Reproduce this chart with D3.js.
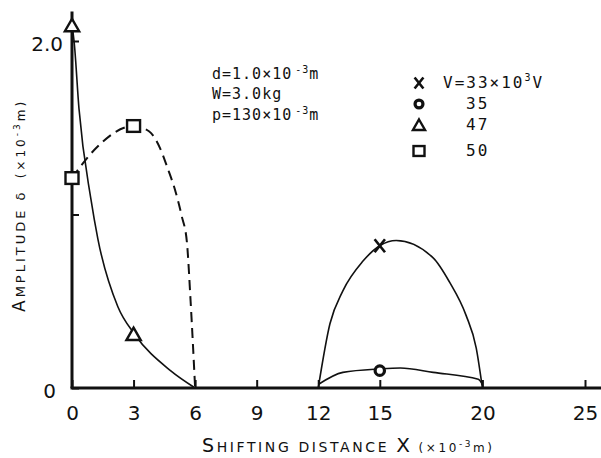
<!DOCTYPE html>
<html lang="en">
<head>
    <meta charset="UTF-8">
    <title>Amplitude vs shifting distance</title>
    <script src="https://d3js.org/d3.v7.min.js"></script>
    <style>
        body { margin: 0; padding: 0; background: white; }
        svg { display: block; }
        .tick text { font-family: "DejaVu Sans", sans-serif; font-size: 20px; fill: #111; }
        .note { font-family: "DejaVu Sans Mono", monospace; fill: #111; }
    </style>
</head>
<body>
<div id="chart"></div>
<script>
    // ticks
    const xTickValues = [0, 3, 6, 9, 12, 15, 20, 25];
    const yTickValues = [0, 1, 2];
    const yTickLabels = ["0", "", "2.0"];

    // measured points (x in 10^-3 m, amplitude in 10^-3 m)
    const v33Points = [[15, 0.82]];
    const v35Points = [[15, 0.10]];
    const v47Points = [[0, 2.09], [3, 0.31]];
    const v50Points = [[0, 1.21], [3, 1.51]];

    // hand drawn curves
    const v33Curve = [[12, 0], [12.57, 0.37], [13.2, 0.56], [14.17, 0.73], [15, 0.82], [15.8, 0.85], [17.6, 0.75], [18.4, 0.61], [19.2, 0.42], [19.7, 0.23], [20, 0]];
    const v35Curve = [[12, 0.02], [13.2, 0.09], [15, 0.11], [16, 0.115], [17.6, 0.09], [19.8, 0.05], [20, 0.02]];
    const v47Curve = [[0, 2.09], [0.1, 2.0], [0.34, 1.61], [0.92, 1.09], [1.26, 0.86], [2.23, 0.47], [3.05, 0.31], [4.8, 0.10], [6, 0]];
    const v50Curve = [[0, 1.21], [1.07, 1.37], [3, 1.51], [3.75, 1.48], [4.3, 1.38], [4.65, 1.27], [5.05, 1.13], [5.35, 0.99], [5.6, 0.84], [5.78, 0.5], [6, 0]];

    const legendLabels = ["V=33×10", "35", "47", "50"];

    const width = 601, height = 458;

    const x = d3.scaleLinear().domain([0, 25]).range([72, 585]);
    const y = d3.scaleLinear().domain([0, 2]).range([388, 41]);

    const svg = d3.select("#chart").append("svg")
        .attr("width", width)
        .attr("height", height);

    // axes
    const xAxis = d3.axisBottom(x)
        .tickValues(xTickValues)
        .tickFormat(d3.format("d"))
        .tickSizeInner(-8)
        .tickSizeOuter(0)
        .tickPadding(18);
    const gx = svg.append("g").attr("transform", `translate(0,${y(0)})`).call(xAxis);
    gx.select(".domain").remove();
    gx.selectAll(".tick line").attr("stroke", "#111").attr("stroke-width", 2);

    const yAxis = d3.axisLeft(y)
        .tickValues(yTickValues)
        .tickFormat((d, i) => yTickLabels[i])
        .tickSizeInner(-7)
        .tickSizeOuter(0)
        .tickPadding(9);
    const gy = svg.append("g").attr("transform", `translate(${x(0)},0)`).call(yAxis);
    gy.select(".domain").remove();
    gy.selectAll(".tick line").attr("stroke", "#111").attr("stroke-width", 2);
    gy.selectAll(".tick text").attr("x", d => d === 0 ? -16 : -9).attr("dy", "0.45em");

    // thick axis lines
    svg.append("line")
        .attr("x1", x(0) - 1.5).attr("x2", width)
        .attr("y1", y(0)).attr("y2", y(0))
        .attr("stroke", "#111").attr("stroke-width", 3);
    svg.append("line")
        .attr("x1", x(0)).attr("x2", x(0))
        .attr("y1", y(0)).attr("y2", y(2.17))
        .attr("stroke", "#111").attr("stroke-width", 3);

    // curves
    const line = d3.line()
        .x(d => x(d[0]))
        .y(d => y(d[1]))
        .curve(d3.curveMonotoneX);

    const curves = [
        { pts: v33Curve, dash: null },
        { pts: v35Curve, dash: null },
        { pts: v47Curve, dash: null },
        { pts: v50Curve, dash: "10,6" }
    ];
    svg.append("g").selectAll("path")
        .data(curves)
        .join("path")
        .attr("d", d => line(d.pts))
        .attr("fill", "none")
        .attr("stroke", "#111")
        .attr("stroke-width", d => d.dash ? 2 : 1.6)
        .attr("stroke-dasharray", d => d.dash);

    // marker shapes
    function marker(g, type, s) {
        if (type === "x") {
            g.append("path")
                .attr("d", `M${-s * 0.4},${-s * 0.5}L${s * 0.4},${s * 0.5}M${s * 0.4},${-s * 0.5}L${-s * 0.4},${s * 0.5}`)
                .attr("stroke", "#111").attr("stroke-width", 2.6).attr("fill", "none");
        } else if (type === "circle") {
            g.append("circle").attr("r", s * 0.36)
                .attr("fill", "white").attr("stroke", "#111").attr("stroke-width", 3.2);
        } else if (type === "triangle") {
            g.append("path")
                .attr("d", `M0,${-s * 0.5}L${s * 0.55},${s * 0.45}L${-s * 0.55},${s * 0.45}Z`)
                .attr("fill", "white").attr("stroke", "#111").attr("stroke-width", 2.4);
        } else {
            g.append("rect")
                .attr("x", -s * 0.5).attr("y", -s * 0.45)
                .attr("width", s).attr("height", s * 0.9)
                .attr("fill", "white").attr("stroke", "#111").attr("stroke-width", 2.4);
        }
    }

    const series = [
        { pts: v33Points, type: "x" },
        { pts: v35Points, type: "circle" },
        { pts: v47Points, type: "triangle" },
        { pts: v50Points, type: "square" }
    ];
    series.forEach(s => {
        s.pts.forEach(p => {
            const g = svg.append("g").attr("transform", `translate(${x(p[0])},${y(p[1])})`);
            marker(g, s.type, 13);
        });
    });

    // parameter notes
    const notes = svg.append("g").attr("class", "note")
        .style("font-size", "15px").style("letter-spacing", "1px");
    const n1 = notes.append("text").attr("x", 212).attr("y", 79);
    n1.append("tspan").text("d=1.0×10");
    n1.append("tspan").attr("dx", 3).attr("dy", -6).style("font-size", "10px").text("-3");
    n1.append("tspan").attr("dy", 6).text("m");
    notes.append("text").attr("x", 212).attr("y", 99).text("W=3.0kg");
    const n3 = notes.append("text").attr("x", 212).attr("y", 120);
    n3.append("tspan").text("p=130×10");
    n3.append("tspan").attr("dx", 3).attr("dy", -6).style("font-size", "10px").text("-3");
    n3.append("tspan").attr("dy", 6).text("m");

    // legend
    const legendY = [83, 104, 125, 151];
    const legendX = [443, 466, 466, 466];
    series.forEach((s, i) => {
        const g = svg.append("g").attr("transform", `translate(419,${legendY[i]})`);
        marker(g, s.type, 11);
        const t = svg.append("text").attr("class", "note")
            .attr("x", legendX[i]).attr("y", legendY[i] + 5)
            .style("font-size", "16px").style("letter-spacing", "2px");
        t.append("tspan").text(legendLabels[i]);
        if (i === 0) {
            t.append("tspan").attr("dy", -7).style("font-size", "10px").text("3");
            t.append("tspan").attr("dy", 7).text("V");
        }
    });

    // axis titles
    const xt = svg.append("text")
        .attr("x", 202).attr("y", 452)
        .style("font-family", "DejaVu Sans, sans-serif")
        .style("letter-spacing", "2.6px")
        .attr("fill", "#111");
    xt.append("tspan").style("font-size", "19px").text("S");
    xt.append("tspan").style("font-size", "14px").text("HIFTING DISTANCE ");
    xt.append("tspan").style("font-size", "20px").text("X");
    xt.append("tspan").style("font-size", "12px").attr("dx", 6).text("(×10");
    xt.append("tspan").style("font-size", "9px").attr("dy", -5).text("-3");
    xt.append("tspan").style("font-size", "12px").attr("dy", 5).text("m)");

    const yt = svg.append("text")
        .attr("transform", "translate(25,312) rotate(-90)")
        .style("font-family", "DejaVu Sans, sans-serif")
        .style("letter-spacing", "3px")
        .attr("fill", "#111");
    yt.append("tspan").style("font-size", "17px").text("A");
    yt.append("tspan").style("font-size", "13px").text("MPLITUDE ");
    yt.append("tspan").style("font-size", "13px").text("δ ");
    yt.append("tspan").style("font-size", "12px").attr("dx", 4).text("(×10");
    yt.append("tspan").style("font-size", "9px").attr("dy", -5).text("-3");
    yt.append("tspan").style("font-size", "12px").attr("dy", 5).text("m)");
</script>
</body>
</html>
